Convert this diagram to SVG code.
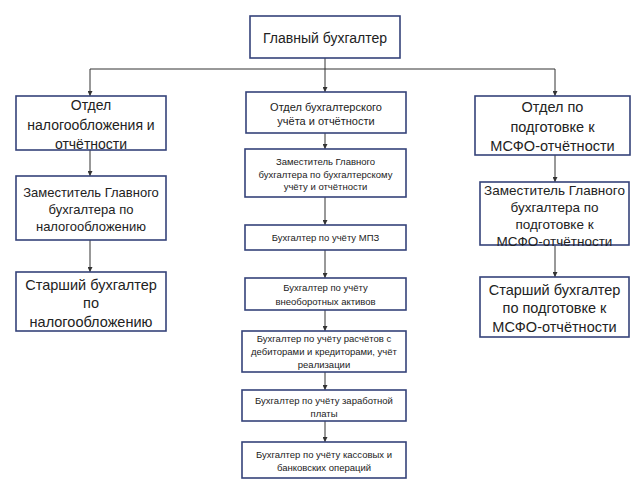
<svg xmlns="http://www.w3.org/2000/svg" width="640" height="480" viewBox="0 0 640 480">
<defs>
<marker id="arr" viewBox="0 0 6 6" refX="6" refY="3" markerWidth="5" markerHeight="5" orient="auto" markerUnits="userSpaceOnUse">
<path d="M0,0 L6,3 L0,6 z" fill="#333"/>
</marker>
<style>
.box{fill:#fff;stroke:#35437a;stroke-width:1.6}
.t{font-family:"Liberation Sans",Arial,sans-serif;fill:#222;text-anchor:middle}
.c{fill:none;stroke:#333;stroke-width:1}
</style>
</defs>
<rect width="640" height="480" fill="#fff"/>
<g id="connectors">
<path class="c" d="M325,58 V69 M90,69 H555"/>
<path class="c" d="M90,69 V96" marker-end="url(#arr)"/>
<path class="c" d="M325,69 V92" marker-end="url(#arr)"/>
<path class="c" d="M555,69 V96" marker-end="url(#arr)"/>
<path class="c" d="M90,150 V176" marker-end="url(#arr)"/>
<path class="c" d="M90,240 V272" marker-end="url(#arr)"/>
<path class="c" d="M325,133 V149" marker-end="url(#arr)"/>
<path class="c" d="M325,197 V225" marker-end="url(#arr)"/>
<path class="c" d="M325,250 V278" marker-end="url(#arr)"/>
<path class="c" d="M325,310 V331" marker-end="url(#arr)"/>
<path class="c" d="M325,372 V390" marker-end="url(#arr)"/>
<path class="c" d="M325,421 V442" marker-end="url(#arr)"/>
<path class="c" d="M555,155 V182" marker-end="url(#arr)"/>
<path class="c" d="M555,245 V277" marker-end="url(#arr)"/>
</g>
<g id="chief">
<rect class="box" x="250" y="16" width="150" height="42"/>
<text class="t" x="325" y="43" font-size="14">Главный бухгалтер</text>
</g>
<g id="tax-dept">
<rect class="box" x="16" y="96" width="150" height="54"/>
<text class="t" font-size="14"><tspan x="91" y="110">Отдел</tspan><tspan x="91" y="130">налогообложения и</tspan><tspan x="91" y="149">отчётности</tspan></text>
</g>
<g id="acc-dept">
<rect class="box" x="246" y="92" width="160" height="41"/>
<text class="t" font-size="11"><tspan x="326" y="111">Отдел бухгалтерского</tspan><tspan x="326" y="125">учёта и отчётности</tspan></text>
</g>
<g id="ifrs-dept">
<rect class="box" x="475" y="96" width="155" height="59"/>
<text class="t" font-size="14.5"><tspan x="552.5" y="112">Отдел по</tspan><tspan x="552.5" y="132">подготовке к</tspan><tspan x="552.5" y="151">МСФО-отчётности</tspan></text>
</g>
<g id="tax-deputy">
<rect class="box" x="16" y="176" width="150" height="64"/>
<text class="t" font-size="13"><tspan x="91" y="197">Заместитель Главного</tspan><tspan x="91" y="214">бухгалтера по</tspan><tspan x="91" y="231">налогообложению</tspan></text>
</g>
<g id="tax-senior">
<rect class="box" x="16" y="272" width="150" height="59"/>
<text class="t" font-size="14.5"><tspan x="91" y="290">Старший бухгалтер</tspan><tspan x="91" y="308">по</tspan><tspan x="91" y="327">налогообложению</tspan></text>
</g>
<g id="acc-deputy">
<rect class="box" x="245" y="149" width="161" height="48"/>
<text class="t" font-size="9.5"><tspan x="325.5" y="165">Заместитель Главного</tspan><tspan x="325.5" y="177.5">бухгалтера по бухгалтерскому</tspan><tspan x="325.5" y="190">учёту и отчётности</tspan></text>
</g>
<g id="acc-mpz">
<rect class="box" x="245" y="225" width="161" height="25"/>
<text class="t" font-size="9.5" x="325.5" y="241">Бухгалтер по учёту МПЗ</text>
</g>
<g id="acc-fixed">
<rect class="box" x="245" y="278" width="161" height="32"/>
<text class="t" font-size="9.5"><tspan x="325.5" y="290.5">Бухгалтер по учёту</tspan><tspan x="325.5" y="305">внеоборотных активов</tspan></text>
</g>
<g id="acc-settle">
<rect class="box" x="242" y="331" width="164" height="41"/>
<text class="t" font-size="9.5"><tspan x="324" y="341.5">Бухгалтер по учёту расчётов с</tspan><tspan x="324" y="354.5">дебиторами и кредиторами, учёт</tspan><tspan x="324" y="367.5">реализации</tspan></text>
</g>
<g id="acc-salary">
<rect class="box" x="242" y="390" width="164" height="31"/>
<text class="t" font-size="9.5"><tspan x="324" y="404">Бухгалтер по учёту заработной</tspan><tspan x="324" y="416.5">платы</tspan></text>
</g>
<g id="acc-cash">
<rect class="box" x="242" y="442" width="164" height="36"/>
<text class="t" font-size="9.5"><tspan x="324" y="458">Бухгалтер по учёту кассовых и</tspan><tspan x="324" y="471">банковских операций</tspan></text>
</g>
<g id="ifrs-deputy">
<rect class="box" x="480" y="182" width="149" height="63"/>
<text class="t" font-size="13.5"><tspan x="554.5" y="195">Заместитель Главного</tspan><tspan x="554.5" y="212">бухгалтера по</tspan><tspan x="554.5" y="228.5">подготовке к</tspan><tspan x="554.5" y="246">МСФО-отчётности</tspan></text>
</g>
<g id="ifrs-senior">
<rect class="box" x="480" y="277" width="149" height="60"/>
<text class="t" font-size="14.5"><tspan x="554.5" y="295">Старший бухгалтер</tspan><tspan x="554.5" y="313">по подготовке к</tspan><tspan x="554.5" y="332">МСФО-отчётности</tspan></text>
</g>
</svg>
